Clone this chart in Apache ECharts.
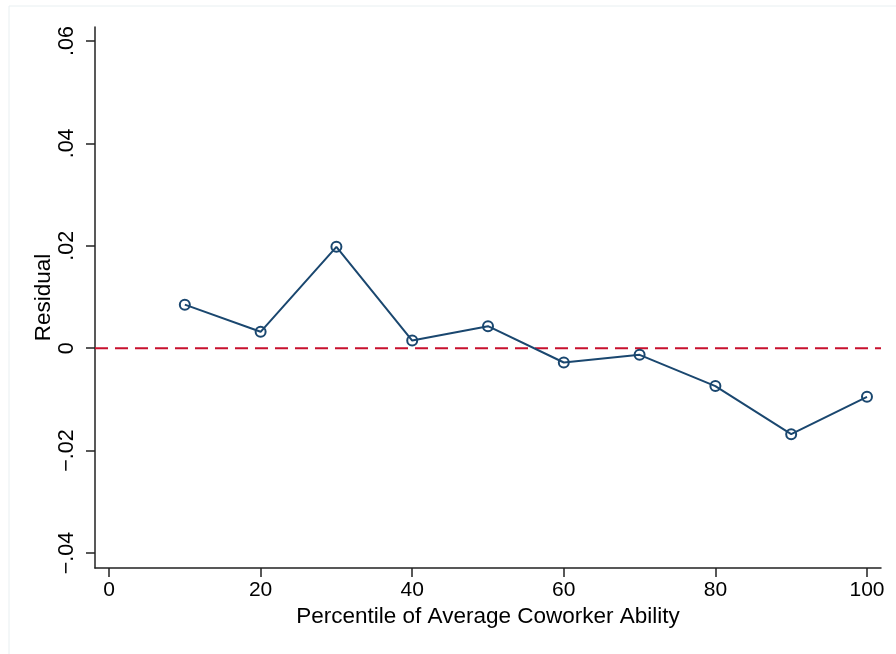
<!DOCTYPE html>
<html>
<head>
<meta charset="utf-8">
<script src="https://cdn.jsdelivr.net/npm/echarts@6/dist/echarts.min.js"></script>
<style>html,body{margin:0;padding:0;background:#fff}#c{width:896px;height:654px}</style>
</head>
<body>
<div id="c"></div>
<script>
const percentiles = [10, 20, 30, 40, 50, 60, 70, 80, 90, 100];
const residuals = [0.0085, 0.0032, 0.0198, 0.0015, 0.0043, -0.0028, -0.0013, -0.0074, -0.0168, -0.0095];
const xTicks = [0, 20, 40, 60, 80, 100];
const yTicks = [-0.04, -0.02, 0, 0.02, 0.04, 0.06];
const refLine = [[-1.85, 0], [101.85, 0]];

function fmtY(v) {
  if (Math.abs(v) < 1e-9) return '0';
  const s = Math.abs(v).toFixed(2).replace(/^0/, '');
  return (v < 0 ? '\u2212' : '') + s;
}

const chart = echarts.init(document.getElementById('c'), null, {renderer: 'canvas'});
const font = 'Liberation Sans, Arial, Helvetica, sans-serif';
chart.setOption({
  animation: false,
  backgroundColor: '#ffffff',
  graphic: [{
    type: 'rect', left: 6.5, top: 3.5, z: -1,
    shape: {x: 0, y: 0, width: 895, height: 660},
    style: {fill: 'none', stroke: '#e8eff1', lineWidth: 1}
  }],
  grid: {left: 95, right: 15, top: 27, bottom: 86, containLabel: false},
  xAxis: {
    type: 'value', min: -1.85, max: 101.85,
    name: 'Percentile of Average Coworker Ability',
    nameLocation: 'middle', nameGap: 37, nameMoveOverlap: false,
    nameTextStyle: {fontFamily: font, fontSize: 22.5, color: '#000'},
    axisLine: {show: true, onZero: false, lineStyle: {color: '#222', width: 1.5}},
    axisTick: {show: true, length: 9, lineStyle: {color: '#222', width: 1.5}, customValues: xTicks},
    axisLabel: {fontFamily: font, fontSize: 21, color: '#000', margin: 12, customValues: xTicks},
    splitLine: {show: false}
  },
  yAxis: {
    type: 'value', min: -0.04293, max: 0.06273,
    name: 'Residual',
    nameLocation: 'middle', nameGap: 40, nameRotate: 90, nameMoveOverlap: false,
    nameTextStyle: {fontFamily: font, fontSize: 22.5, color: '#000'},
    axisLine: {show: true, onZero: false, lineStyle: {color: '#222', width: 1.5}},
    axisTick: {show: true, length: 9, lineStyle: {color: '#222', width: 1.5}, customValues: yTicks},
    axisLabel: {fontFamily: font, fontSize: 21.5, color: '#000', margin: 17, rotate: 90,
      customValues: yTicks, formatter: fmtY},
    splitLine: {show: false}
  },
  series: [
    {
      type: 'line',
      data: refLine,
      symbol: 'none',
      silent: true,
      lineStyle: {color: '#c8102e', width: 2, type: [13, 7]},
      z: 1
    },
    {
      type: 'line',
      data: percentiles.map((p, i) => [p, residuals[i]]),
      symbol: 'circle', symbolSize: 10,
      itemStyle: {color: 'rgba(255,255,255,0)', borderColor: '#1a476f', borderWidth: 2},
      lineStyle: {color: '#1a476f', width: 2},
      z: 2
    }
  ]
});
</script>
</body>
</html>
